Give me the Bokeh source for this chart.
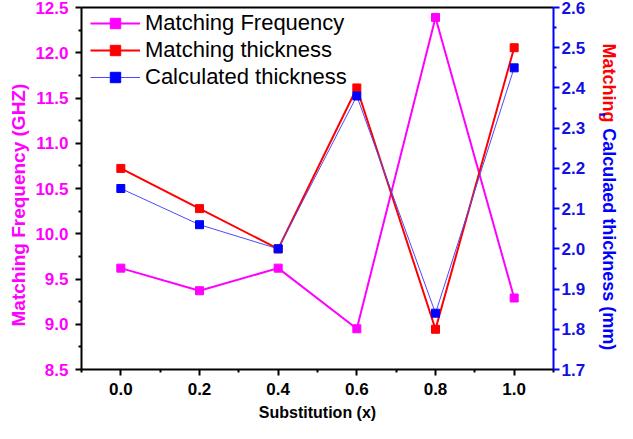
import math
from bokeh.plotting import figure
from bokeh.layouts import row
from bokeh.models import (Range1d, LinearAxis, FixedTicker, Legend, LegendItem, Title)
from bokeh.core.properties import value
from bokeh.embed import file_html
from bokeh.resources import INLINE

# ---- data ----
substitution = [0.0, 0.2, 0.4, 0.6, 0.8, 1.0]
matching_frequency = [9.62, 9.37, 9.62, 8.95, 12.39, 9.29]
matching_thickness = [2.20, 2.10, 2.00, 2.40, 1.80, 2.50]
calculated_thickness = [2.15, 2.06, 2.00, 2.38, 1.84, 2.45]

x_ticks = [0.0, 0.2, 0.4, 0.6, 0.8, 1.0]
left_ticks = [8.5, 9.0, 9.5, 10.0, 10.5, 11.0, 11.5, 12.0, 12.5]
right_ticks = [1.7, 1.8, 1.9, 2.0, 2.1, 2.2, 2.3, 2.4, 2.5, 2.6]

series_names = ["Matching Frequency", "Matching thickness", "Calculated thickness"]
right_title_parts = ["Matching", ",", "Calculaed thickness (mm)"]

MAGENTA = "#ff00ff"
RED = "#ff0000"
BLUE = "#0000ff"
FONT = "Liberation Sans"

p = figure(width=595, height=423, output_backend="svg", toolbar_location=None,
           x_range=Range1d(-0.1, 1.1), y_range=Range1d(8.5, 12.5),
           min_border_left=81, min_border_right=42, min_border_top=7, min_border_bottom=51)
p.extra_y_ranges = {"thick": Range1d(1.7, 2.6)}
p.grid.visible = False
p.outline_line_color = None

# glyphs
lf = p.line(substitution, matching_frequency, line_color=MAGENTA, line_width=2)
sf = p.scatter(substitution, matching_frequency, marker="square", size=8, color=MAGENTA)
lm = p.line(substitution, matching_thickness, line_color=RED, line_width=2, y_range_name="thick")
sm = p.scatter(substitution, matching_thickness, marker="square", size=8, color=RED, y_range_name="thick")
lc = p.line(substitution, calculated_thickness, line_color="#4a4aff", line_width=1, y_range_name="thick")
sc = p.scatter(substitution, calculated_thickness, marker="square", size=8, color=BLUE, y_range_name="thick")

def style_axis(ax, label_color, line_color, standoff):
    ax.axis_line_width = 2
    ax.axis_line_color = line_color
    ax.major_tick_line_color = line_color
    ax.minor_tick_line_color = line_color
    ax.major_tick_line_width = 2
    ax.minor_tick_line_width = 2
    ax.major_tick_out = 6
    ax.major_tick_in = 0
    ax.minor_tick_out = 3
    ax.minor_tick_in = 0
    ax.major_label_text_font = FONT
    ax.major_label_text_font_style = "bold"
    ax.major_label_text_font_size = "17px"
    ax.major_label_text_color = label_color
    ax.major_label_standoff = standoff

# bottom axis
xa = p.xaxis[0]
xa.ticker = FixedTicker(ticks=x_ticks, minor_ticks=[-0.1, 0.1, 0.3, 0.5, 0.7, 0.9, 1.1])
style_axis(xa, "black", "black", 7)
xa.major_label_overrides = {t: f"{t:.1f}" for t in x_ticks}
xa.axis_label = "Substitution (x)"
xa.axis_label_text_font = FONT
xa.axis_label_text_font_style = "bold"
xa.axis_label_text_font_size = "16px"
xa.axis_label_text_color = "black"
xa.axis_label_standoff = 6

# left axis
ya = p.yaxis[0]
ya.ticker = FixedTicker(ticks=left_ticks, minor_ticks=[8.75, 9.25, 9.75, 10.25, 10.75, 11.25, 11.75, 12.25])
style_axis(ya, MAGENTA, "black", 7)
ya.major_label_overrides = {t: f"{t:.1f}" for t in left_ticks}

# right axis
ra = LinearAxis(y_range_name="thick")
ra.ticker = FixedTicker(ticks=right_ticks, minor_ticks=[1.75, 1.85, 1.95, 2.05, 2.15, 2.25, 2.35, 2.45, 2.55])
style_axis(ra, "#1010e0", BLUE, 2)
ra.major_label_overrides = {t: f"{t:.1f}" for t in right_ticks}
p.add_layout(ra, "right")

# top border
ta = LinearAxis(ticker=FixedTicker(ticks=[]), major_label_text_font_size="0px",
                major_tick_out=0, minor_tick_out=0, axis_line_width=2, axis_line_color="black")
p.add_layout(ta, "above")

# left title
p.add_layout(Title(text="Matching Frequency (GHZ)", align="left", offset=43, text_font=FONT,
                   text_font_style="bold", text_font_size="19px", text_color=MAGENTA, standoff=8), "left")

legend = Legend(items=[
    LegendItem(label=series_names[0], renderers=[lf, sf]),
    LegendItem(label=series_names[1], renderers=[lm, sm]),
    LegendItem(label=series_names[2], renderers=[lc, sc]),
], location=(9, 279))
legend.margin = 0
legend.padding = 0
legend.spacing = 1
legend.glyph_width = 50
legend.glyph_height = 26
legend.label_height = 26
legend.label_standoff = 5
legend.label_text_font = FONT
legend.label_text_font_size = "22px"
legend.label_text_color = "black"
legend.border_line_color = None
legend.background_fill_alpha = 0
p.add_layout(legend)

# narrow strip holding the two-colour right-hand axis title
q = figure(width=22, height=423, output_backend="svg", toolbar_location=None,
           x_range=Range1d(0, 22), y_range=Range1d(0, 423),
           min_border_left=0, min_border_right=0, min_border_top=0, min_border_bottom=0)
q.axis.visible = False
q.grid.visible = False
q.outline_line_color = None
for txt, ypos, col in zip(right_title_parts, [381, 301, 282], [RED, BLUE, BLUE]):
    q.text(x=[13], y=[ypos], text=[txt], angle=-math.pi / 2,
           text_align="left", text_baseline="middle", text_font=value(FONT),
           text_font_style="bold", text_font_size="18px", text_color=col)

layout = row(p, q, spacing=0)
open("out.html", "w").write(file_html(layout, INLINE))
